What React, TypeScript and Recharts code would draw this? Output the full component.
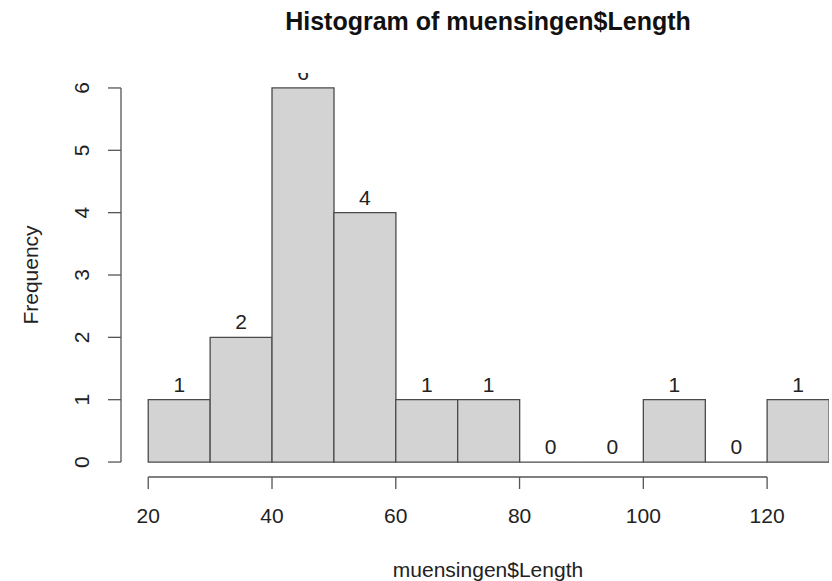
import React from 'react';
import { BarChart, Bar, XAxis, YAxis, LabelList, ReferenceLine } from 'recharts';

// bin edges and counts
const breaks = [20, 30, 40, 50, 60, 70, 80, 90, 100, 110, 120, 130];
const counts = [1, 2, 6, 4, 1, 1, 0, 0, 1, 0, 1];
const xTicks = [20, 40, 60, 80, 100, 120];
const yTicks = [0, 1, 2, 3, 4, 5, 6];

const data = counts.map((count, i) => ({
  mid: (breaks[i] + breaks[i + 1]) / 2,
  count,
}));

// R pads the axis range by 4%
const X_MIN = breaks[0] - 0.04 * (breaks[breaks.length - 1] - breaks[0]);
const X_MAX = breaks[breaks.length - 1];
const Y_PAD = 0.04 * Math.max(...counts);

const W = 832;
const H = 581;
const PLOT_TOP = 73;

const FONT = '"Liberation Sans", Arial, Helvetica, sans-serif';
const TEXT = '#222';
const LINE = '#555';

// rectangle drawn as a path so that empty bins still show their baseline
const HistBar = (props: any) => {
  const { x, y, width, height } = props;
  return (
    <path
      d={`M${x},${y}h${width}v${height}h${-width}Z`}
      fill="#D3D3D3"
      stroke="#4a4a4a"
      strokeWidth={1.3}
    />
  );
};

// count above each bar, clipped to the plot region like R does
const BarLabel = (props: any) => {
  const vb = props.viewBox || {};
  const x = props.x ?? vb.x;
  const y = props.y ?? vb.y;
  const width = props.width ?? vb.width;
  const id = `label-clip-${props.index}`;
  return (
    <g>
      <defs>
        <clipPath id={id}>
          <rect x={0} y={PLOT_TOP} width={W} height={H - PLOT_TOP} />
        </clipPath>
      </defs>
      <text
        x={x + width / 2}
        y={y - 8}
        textAnchor="middle"
        fontSize={21}
        fontFamily={FONT}
        fill={TEXT}
        clipPath={`url(#${id})`}
      >
        {props.value}
      </text>
    </g>
  );
};

const YTick = (props: any) => {
  const { x, y, payload } = props;
  return (
    <text
      x={x}
      y={y}
      transform={`rotate(-90, ${x}, ${y})`}
      textAnchor="middle"
      fontSize={21}
      fontFamily={FONT}
      fill={TEXT}
    >
      {payload.value}
    </text>
  );
};

export default function App() {
  return (
    <div style={{ position: 'absolute', left: 0, top: 0, width: W, height: H, background: '#fff' }}>
      <BarChart
        width={W}
        height={H}
        data={data}
        margin={{ top: PLOT_TOP, right: 3, bottom: 44, left: 61 }}
        barCategoryGap={0}
        barGap={0}
      >
        <XAxis
          dataKey="mid"
          type="number"
          domain={[X_MIN, X_MAX]}
          ticks={xTicks}
          allowDataOverflow
          axisLine={false}
          tickLine={{ stroke: LINE, strokeWidth: 1.3 }}
          tickSize={12}
          tickMargin={19}
          height={60}
          interval={0}
          tick={{ fontSize: 21, fontFamily: FONT, fill: TEXT }}
        />
        <YAxis
          type="number"
          domain={[-Y_PAD, Math.max(...counts) + Y_PAD]}
          ticks={yTicks}
          allowDataOverflow
          axisLine={false}
          tickLine={{ stroke: LINE, strokeWidth: 1.3 }}
          tickSize={13}
          tickMargin={19}
          width={60}
          interval={0}
          tick={<YTick />}
        />
        <ReferenceLine
          segment={[{ x: xTicks[0], y: -Y_PAD }, { x: xTicks[xTicks.length - 1], y: -Y_PAD }]}
          stroke={LINE}
          strokeWidth={1.3}
          ifOverflow="visible"
        />
        <ReferenceLine
          segment={[{ x: X_MIN, y: yTicks[0] }, { x: X_MIN, y: yTicks[yTicks.length - 1] }]}
          stroke={LINE}
          strokeWidth={1.3}
          ifOverflow="visible"
        />
        <Bar dataKey="count" shape={HistBar} isAnimationActive={false}>
          <LabelList dataKey="count" content={BarLabel} />
        </Bar>
      </BarChart>
      <svg width={W} height={H} style={{ position: 'absolute', left: 0, top: 0, pointerEvents: 'none' }}>
        <text x={488} y={30} textAnchor="middle" fontSize={25} fontWeight="bold" fontFamily={FONT} fill="#111">
          Histogram of muensingen$Length
        </text>
        <text x={488} y={577} textAnchor="middle" fontSize={21} fontFamily={FONT} fill={TEXT}>
          muensingen$Length
        </text>
        <text
          x={38}
          y={275}
          transform="rotate(-90, 38, 275)"
          textAnchor="middle"
          fontSize={21}
          fontFamily={FONT}
          fill={TEXT}
        >
          Frequency
        </text>
      </svg>
    </div>
  );
}
